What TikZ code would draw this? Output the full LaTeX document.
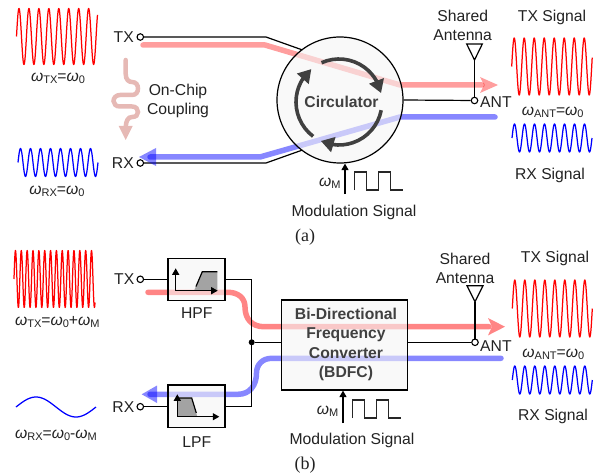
\documentclass[tikz,border=0pt]{standalone}
\usepackage{fontspec}
\setmainfont{Liberation Sans}
\newfontfamily\capfont{Liberation Serif}
\usetikzlibrary{arrows.meta,calc,bending}
\definecolor{txtc}{HTML}{222222}
\definecolor{couple}{HTML}{E6B9B5}
\definecolor{arcc}{HTML}{404040}
\newcommand\om{{\itshape ω}}
\newcommand\sbs[1]{{\fontsize{11}{11}\selectfont\raisebox{-0.35ex}{#1}}}
\newcommand\sigwave[7]{\draw[#1,line width=1.25pt,line join=round] plot[domain=0:#3,samples=#7] ({#2+\x},{#4-#5*sin((360/#6)*\x)});}
\tikzset{
  lbl/.style={inner sep=0pt,text=txtc,font=\fontsize{15.7}{19}\selectfont,align=center},
  lblb/.style={inner sep=0pt,text=arcc,font=\bfseries\fontsize{15.7}{19.2}\selectfont,align=center},
  caplbl/.style={inner sep=0pt,text=txtc,font=\capfont\fontsize{18}{20}\selectfont},
  port/.style={circle,draw=black,fill=white,line width=1.1pt,minimum size=6.5pt,inner sep=0pt},
  wire/.style={draw=black,line width=1.2pt},
  txpath/.style={draw=red,opacity=.38,line width=5.5pt,line cap=round,line join=round},
  txpathb/.style={draw=red,opacity=.48,line width=5.5pt,line cap=round,line join=round},
  rxpath/.style={draw=blue,opacity=.47,line width=5.5pt,line cap=round,line join=round},
  txhead/.style={fill=red,opacity=.38},
  txheadb/.style={fill=red,opacity=.48},
  rxhead/.style={fill=blue,opacity=.47},
  ghost/.style={draw=black,line width=1.2pt,fill=#1,fill opacity=.6,draw opacity=1},
  ghost/.default={white!96!black},
  rot/.style={draw=arcc,line width=3.6pt,-{Triangle[length=13pt,width=15pt,flex]}},
  axisl/.style={draw=black,line width=1.2pt,-{Triangle[length=6.5pt,width=7pt]}},
  pulse/.style={draw=black!85,line width=1.2pt,line join=miter}
}
\begin{document}
\begin{tikzpicture}[x=1pt,y=-1pt]
\useasboundingbox (0,0) rectangle (596,473);
% ===== (a) =====
\sigwave{red}{16.5}{81}{36.5}{28}{9.95}{320}
\sigwave{blue}{18}{80}{162.5}{14}{10}{320}
\sigwave{red}{511.7}{80.5}{66.5}{28.5}{10}{320}
\sigwave{blue}{512}{80}{138}{14}{10}{320}
\node[lbl] at (58,78) {\om\sbs{TX}=\om\sbs{0}};
\node[lbl] at (57,191) {\om\sbs{RX}=\om\sbs{0}};
\node[lbl] at (552.7,112) {\om\sbs{ANT}=\om\sbs{0}};
\node[lbl,anchor=east] (txa) at (134,37) {TX};
\node[lbl,anchor=east] (rxa) at (134,163) {RX};
\node[port] (ptx) at (140.3,37) {};
\node[port] (prx) at (140.3,163) {};
\node[lbl] (coup) at (178,100.5) {On-Chip\\Coupling};
% coupling squiggle
\coordinate (cs) at (125.7,60);
\coordinate (ce) at (125.7,128);
\coordinate (ct) at (125.7,140);
\draw[draw=couple,line width=4.5pt,line cap=round] (cs) -- (125.7,74)
  .. controls (125.7,80) and (129,82) .. (132,82)
  .. controls (136,82) and (138,85) .. (138,88.5)
  .. controls (138,92) and (136,95) .. (132,95)
  -- (120,95)
  .. controls (116,95) and (113.5,98) .. (113.5,101)
  .. controls (113.5,104) and (116,106.5) .. (120,106.5)
  -- (132,106.5)
  .. controls (136,106.5) and (138,109) .. (138,112)
  .. controls (138,115) and (136,117) .. (132,117)
  .. controls (128,117) and (125.7,121) .. (ce);
\fill[couple] (118.7,126) -- (132.7,126) -- (ct) -- cycle;
% wires into circulator
\coordinate (ta1) at (266,37);
\coordinate (ta2) at (302.5,50);
\coordinate (ra1) at (266,163);
\coordinate (ra2) at (302.5,150);
\draw[wire] (ptx) -- (ta1) -- (ta2);
\draw[wire] (prx) -- (ra1) -- (ra2);
% signal paths
\coordinate (tp0) at (143,45);
\coordinate (tp1) at (265,45);
\coordinate (tp2) at (400,85);
\coordinate (tp3) at (482,85);
\coordinate (tp4) at (498,85);
\draw[txpath] (tp0) -- (tp1) -- (tp2) -- (tp3);
\fill[txhead] (480,77) -- (tp4) -- (480,93) -- (484,85) -- cycle;
\coordinate (rp0) at (495,117);
\coordinate (rp1) at (400,117);
\coordinate (rp2) at (260,157);
\coordinate (rp3) at (150,157);
\coordinate (rp4) at (139,157);
\draw[rxpath] (rp0) -- (rp1) -- (rp2) -- (rp3);
\fill[rxhead] (156,148) -- (rp4) -- (156,166) -- cycle;
% circulator
\node[circle,ghost,minimum size=126pt,inner sep=0pt] (circ) at (340,100) {};
\coordinate (ac) at (339,102);
\draw[rot] (ac) ++(114:43pt) arc[start angle=114,end angle=12,radius=43pt];
\draw[rot] (ac) ++(-11:43pt) arc[start angle=-11,end angle=-115,radius=43pt];
\draw[rot] (ac) ++(233:43pt) arc[start angle=233,end angle=130,radius=43pt];
\node[lblb] at (341.5,102) {Circulator};
% antenna
\node[port] (anta) at (474.5,100.5) {};
\coordinate (aa) at (474.5,60);
\draw[wire] (circ.east) -- (anta);
\draw[wire] (anta) -- (aa);
\draw[wire,line join=miter] (aa) -- (466.7,44) -- (482.3,44) -- cycle;
\node[lbl,anchor=west] at (480,102) {ANT};
\node[lbl] at (462.7,25) {Shared\\Antenna};
\node[lbl] at (552,17) {TX Signal};
\node[lbl] at (550,175) {RX Signal};
% modulation
\coordinate (ma) at (345,194);
\draw[draw=black,line width=1.2pt,-{Triangle[length=6.5pt,width=7pt]}] (ma) -- (circ.south -| ma);
\node[lbl,anchor=east] at (340.7,183) {\om\sbs{M}};
\draw[pulse] (354.7,190) -- (354.7,172) -- (366.7,172) -- (366.7,190) -- (378.7,190) -- (378.7,172) -- (390.7,172) -- (390.7,190) -- (403,190);
\node[lbl] at (354,212) {Modulation Signal};
\node[caplbl] at (305,237) {(a)};
% ===== (b) =====
\sigwave{red}{14}{81}{279}{28.5}{5.85}{400}
\sigwave{blue}{16}{80}{407}{10}{80}{80}
\sigwave{red}{512.3}{80}{308.5}{28.5}{10}{320}
\sigwave{blue}{512.3}{80}{380}{14}{10}{320}
\node[lbl] at (57.3,322.3) {\om\sbs{TX}=\om\sbs{0}+\om\sbs{M}};
\node[lbl] at (56,435) {\om\sbs{RX}=\om\sbs{0}-\om\sbs{M}};
\node[lbl] at (553.3,354.3) {\om\sbs{ANT}=\om\sbs{0}};
\node[lbl,anchor=east] at (134.5,279) {TX};
\node[lbl,anchor=east] at (134.5,407) {RX};
\node[port] (ptb) at (140.3,279.3) {};
\node[port] (prb) at (140.3,406.7) {};
% signal paths
\coordinate (tb0) at (148,292.3);
\coordinate (tb1) at (489,326.7);
\draw[txpathb] (tb0) -- (228,292.3)
  .. controls (238,292.3) and (245,298) .. (245,307)
  .. controls (245,319) and (252,326.7) .. (264,326.7)
  -- (tb1);
\fill[txheadb] (488,318) -- (505,326.7) -- (488,335.4) -- (492,326.7) -- cycle;
\coordinate (rb0) at (501,358.3);
\coordinate (rb1) at (150,394.3);
\draw[rxpath] (rb0) -- (272,358.3)
  .. controls (262,358.3) and (256.5,365) .. (256.5,373)
  .. controls (256.5,385) and (250,394.3) .. (238,394.3)
  -- (rb1);
\fill[rxhead] (157,385.5) -- (141.7,394.3) -- (157,403) -- cycle;
% filters and converter
\node[rectangle,ghost,minimum width=57pt,minimum height=42.4pt,inner sep=0pt] (hpf) at (196.5,279.5) {};
\node[rectangle,ghost,minimum width=57pt,minimum height=42.4pt,inner sep=0pt] (lpf) at (196.5,406.2) {};
\node[rectangle,ghost,minimum width=126pt,minimum height=90pt,inner sep=0pt] (bdfc) at (344.7,345) {};
\node[lblb] at (346,344.5) {Bi-Directional\\Frequency\\Converter\\(BDFC)};
\node[circle,fill=black,inner sep=0pt,minimum size=6pt] (jn) at (251.7,342.3) {};
\coordinate (jt) at (251.7,279.3);
\coordinate (jb) at (251.7,406.7);
\draw[wire] (ptb) -- (hpf.west |- ptb);
\draw[wire] (prb) -- (lpf.west |- prb);
\draw[wire,line join=miter] (hpf.east |- jt) -- (jt) -- (jb) -- (lpf.east |- jb);
\draw[wire] (jn) -- (bdfc.west |- jn);
% HPF icon
\fill[black!36] (194,290.7) -- (202.3,271.7) -- (217.3,271.7) -- (217.3,290.7) -- cycle;
\draw[draw=black,line width=1.2pt] (196,286.5) -- (202.3,271.7) -- (217.3,271.7);
\coordinate (ho) at (175.7,290.7);
\draw[axisl] (ho) -- (175.7,268.3);
\draw[axisl] (ho) -- (217.7,290.7);
% LPF icon
\fill[black!36] (177.3,398) -- (191.7,398) -- (197.3,416.7) -- (177.3,416.7) -- cycle;
\draw[draw=black,line width=1.2pt] (177.3,398) -- (191.7,398) -- (196.3,413);
\coordinate (lo) at (177.3,416.7);
\draw[axisl] (lo) -- (177.3,394.3);
\draw[axisl] (lo) -- (219.3,416.7);
\node[lbl] at (196.7,312.7) {HPF};
\node[lbl] at (196.7,441.7) {LPF};
% antenna
\node[port] (antb) at (475,342.3) {};
\coordinate (ab) at (475,301.7);
\draw[wire] (bdfc.east |- antb) -- (antb);
\draw[wire] (antb) -- (ab);
\draw[wire,line join=miter] (ab) -- (467,285.7) -- (483,285.7) -- cycle;
\node[lbl,anchor=west] at (480,345.7) {ANT};
\node[lbl] at (465,268) {Shared\\Antenna};
\node[lbl] at (555,258) {TX Signal};
\node[lbl] at (553,416.7) {RX Signal};
% modulation
\coordinate (mb) at (343,423);
\draw[draw=black,line width=1.2pt,-{Triangle[length=6.5pt,width=7pt]}] (mb) -- (bdfc.south -| mb);
\node[lbl,anchor=east] at (338.5,411) {\om\sbs{M}};
\draw[pulse] (352.3,418) -- (352.3,400) -- (364.7,400) -- (364.7,418) -- (376.7,418) -- (376.7,400) -- (388.7,400) -- (388.7,418) -- (401,418);
\node[lbl] at (352,440.5) {Modulation Signal};
\node[caplbl] at (305,465) {(b)};
\end{tikzpicture}
\end{document}
